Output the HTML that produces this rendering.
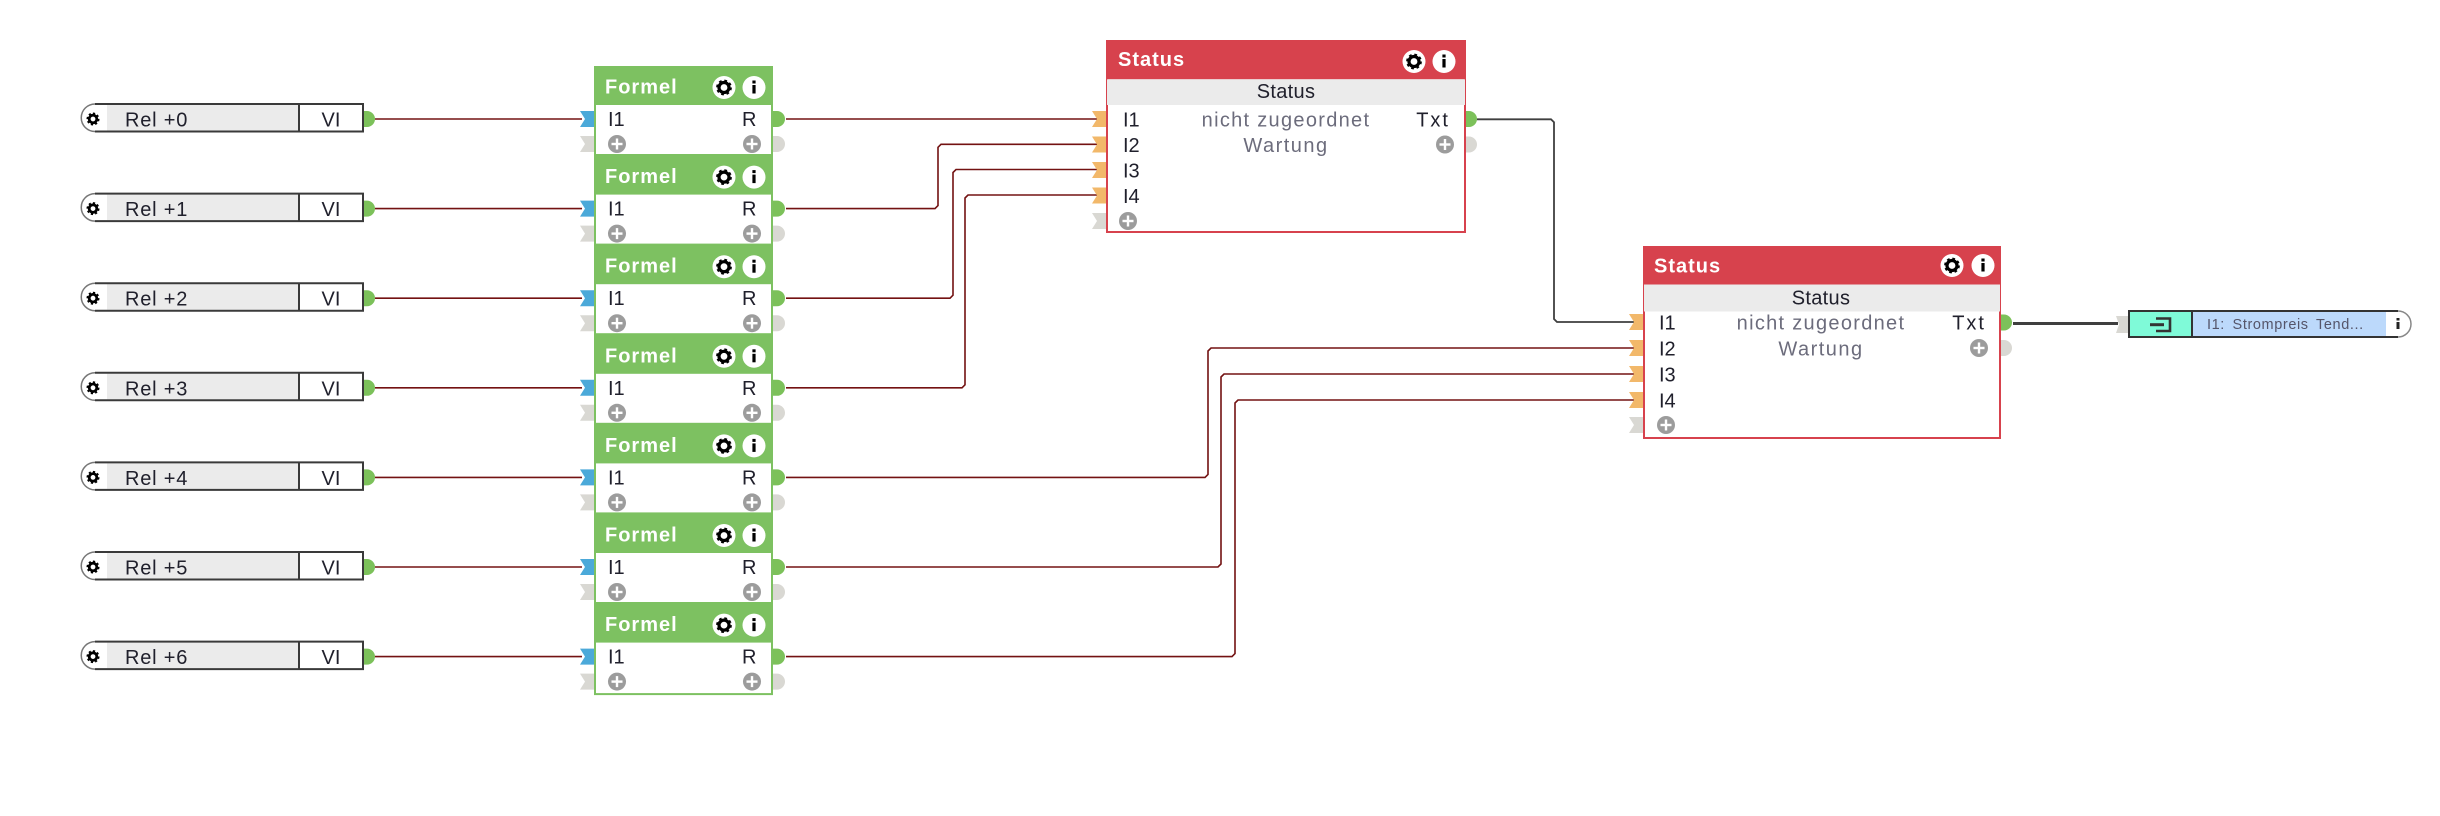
<!DOCTYPE html>
<html><head><meta charset="utf-8"><style>
html,body{margin:0;padding:0;background:#fff;width:2440px;height:816px;overflow:hidden}
svg{display:block}
text{font-family:"Liberation Sans",Arial,sans-serif}
.hd{font-weight:bold;font-size:20px;fill:#fff;letter-spacing:1px}
.t{font-size:20px;fill:#20202c}
.g{font-size:20px;fill:#6c6c7c}
.w{fill:none;stroke:#731212;stroke-width:1.6}
.d{fill:none;stroke:#3f3f3f}
</style></head><body>
<svg width="2440" height="816" viewBox="0 0 2440 816">
<defs>
<g id="gear"><circle r="11.5" fill="#fff"/><circle r="5" fill="none" stroke="#000" stroke-width="3.2"/><circle r="6.6" fill="none" stroke="#000" stroke-width="2.6" stroke-dasharray="2.6 2.6"/></g>
<g id="info"><circle r="11.5" fill="#fff"/><rect x="-1.6" y="-2.5" width="3.2" height="8.5" fill="#000"/><rect x="-1.6" y="-7" width="3.2" height="3" fill="#000"/></g>
<g id="plus"><circle r="9" fill="#9c9c9c"/><rect x="-5.5" y="-1.2" width="11" height="2.4" fill="#fff"/><rect x="-1.2" y="-5.5" width="2.4" height="11" fill="#fff"/></g>
<g id="sgear"><circle r="3.8" fill="none" stroke="#000" stroke-width="2.8"/><circle r="5.4" fill="none" stroke="#000" stroke-width="2.2" stroke-dasharray="2.1 2.1"/></g>
</defs>

<!-- wires Rel -> Formel -->
<path class="w" d="M375,119 H582"/>
<path class="w" d="M375,208.6 H582"/>
<path class="w" d="M375,298.2 H582"/>
<path class="w" d="M375,387.8 H582"/>
<path class="w" d="M375,477.4 H582"/>
<path class="w" d="M375,567 H582"/>
<path class="w" d="M375,656.6 H582"/>

<!-- wires Formel -> Status -->
<path class="w" d="M786,119 H1098"/>
<path class="w" d="M786,208.6 H935 L938,205.6 V147.3 L941,144.3 H1098"/>
<path class="w" d="M786,298.2 H950 L953,295.2 V172.5 L956,169.5 H1098"/>
<path class="w" d="M786,387.8 H962 L965,384.8 V198 L968,195 H1098"/>
<path class="w" d="M786,477.4 H1205 L1208,474.4 V351 L1211,348 H1636"/>
<path class="w" d="M786,567 H1218 L1221,564 V377 L1224,374 H1636"/>
<path class="w" d="M786,656.6 H1232 L1235,653.6 V403 L1238,400 H1636"/>

<!-- dark wires -->
<path class="d" stroke-width="1.8" d="M1477,119.3 H1551 L1554,122.3 V319 L1557,322 H1636"/>
<path class="d" stroke-width="3" d="M2013,323.5 H2118"/>

<!-- Rel boxes -->
<g transform="translate(0,119)">
<path d="M95,-15 A13.7,13.7 0 0 0 95,12.5" fill="#fff" stroke="#777" stroke-width="1.5"/>
<rect x="95" y="-15" width="268" height="27.5" fill="#fff"/><rect x="107" y="-14" width="192" height="25.5" fill="#ebebeb"/>
<path d="M95,-15 H363 V12.5 H95 M299,-15 V12.5" fill="none" stroke="#3a3a3a" stroke-width="2"/>
<use href="#sgear" x="93" y="0"/>
<text x="125" y="7.5" class="t" letter-spacing="0.8">Rel +0</text><text x="331" y="7.5" class="t" text-anchor="middle">VI</text>
<path d="M364,-8 h3 a8,8 0 0 1 0,16 h-3z" fill="#7cc15a"/></g>

<g transform="translate(0,208.6)">
<path d="M95,-15 A13.7,13.7 0 0 0 95,12.5" fill="#fff" stroke="#777" stroke-width="1.5"/>
<rect x="95" y="-15" width="268" height="27.5" fill="#fff"/><rect x="107" y="-14" width="192" height="25.5" fill="#ebebeb"/>
<path d="M95,-15 H363 V12.5 H95 M299,-15 V12.5" fill="none" stroke="#3a3a3a" stroke-width="2"/>
<use href="#sgear" x="93" y="0"/>
<text x="125" y="7.5" class="t" letter-spacing="0.8">Rel +1</text><text x="331" y="7.5" class="t" text-anchor="middle">VI</text>
<path d="M364,-8 h3 a8,8 0 0 1 0,16 h-3z" fill="#7cc15a"/></g>

<g transform="translate(0,298.2)">
<path d="M95,-15 A13.7,13.7 0 0 0 95,12.5" fill="#fff" stroke="#777" stroke-width="1.5"/>
<rect x="95" y="-15" width="268" height="27.5" fill="#fff"/><rect x="107" y="-14" width="192" height="25.5" fill="#ebebeb"/>
<path d="M95,-15 H363 V12.5 H95 M299,-15 V12.5" fill="none" stroke="#3a3a3a" stroke-width="2"/>
<use href="#sgear" x="93" y="0"/>
<text x="125" y="7.5" class="t" letter-spacing="0.8">Rel +2</text><text x="331" y="7.5" class="t" text-anchor="middle">VI</text>
<path d="M364,-8 h3 a8,8 0 0 1 0,16 h-3z" fill="#7cc15a"/></g>

<g transform="translate(0,387.8)">
<path d="M95,-15 A13.7,13.7 0 0 0 95,12.5" fill="#fff" stroke="#777" stroke-width="1.5"/>
<rect x="95" y="-15" width="268" height="27.5" fill="#fff"/><rect x="107" y="-14" width="192" height="25.5" fill="#ebebeb"/>
<path d="M95,-15 H363 V12.5 H95 M299,-15 V12.5" fill="none" stroke="#3a3a3a" stroke-width="2"/>
<use href="#sgear" x="93" y="0"/>
<text x="125" y="7.5" class="t" letter-spacing="0.8">Rel +3</text><text x="331" y="7.5" class="t" text-anchor="middle">VI</text>
<path d="M364,-8 h3 a8,8 0 0 1 0,16 h-3z" fill="#7cc15a"/></g>

<g transform="translate(0,477.4)">
<path d="M95,-15 A13.7,13.7 0 0 0 95,12.5" fill="#fff" stroke="#777" stroke-width="1.5"/>
<rect x="95" y="-15" width="268" height="27.5" fill="#fff"/><rect x="107" y="-14" width="192" height="25.5" fill="#ebebeb"/>
<path d="M95,-15 H363 V12.5 H95 M299,-15 V12.5" fill="none" stroke="#3a3a3a" stroke-width="2"/>
<use href="#sgear" x="93" y="0"/>
<text x="125" y="7.5" class="t" letter-spacing="0.8">Rel +4</text><text x="331" y="7.5" class="t" text-anchor="middle">VI</text>
<path d="M364,-8 h3 a8,8 0 0 1 0,16 h-3z" fill="#7cc15a"/></g>

<g transform="translate(0,567)">
<path d="M95,-15 A13.7,13.7 0 0 0 95,12.5" fill="#fff" stroke="#777" stroke-width="1.5"/>
<rect x="95" y="-15" width="268" height="27.5" fill="#fff"/><rect x="107" y="-14" width="192" height="25.5" fill="#ebebeb"/>
<path d="M95,-15 H363 V12.5 H95 M299,-15 V12.5" fill="none" stroke="#3a3a3a" stroke-width="2"/>
<use href="#sgear" x="93" y="0"/>
<text x="125" y="7.5" class="t" letter-spacing="0.8">Rel +5</text><text x="331" y="7.5" class="t" text-anchor="middle">VI</text>
<path d="M364,-8 h3 a8,8 0 0 1 0,16 h-3z" fill="#7cc15a"/></g>

<g transform="translate(0,656.6)">
<path d="M95,-15 A13.7,13.7 0 0 0 95,12.5" fill="#fff" stroke="#777" stroke-width="1.5"/>
<rect x="95" y="-15" width="268" height="27.5" fill="#fff"/><rect x="107" y="-14" width="192" height="25.5" fill="#ebebeb"/>
<path d="M95,-15 H363 V12.5 H95 M299,-15 V12.5" fill="none" stroke="#3a3a3a" stroke-width="2"/>
<use href="#sgear" x="93" y="0"/>
<text x="125" y="7.5" class="t" letter-spacing="0.8">Rel +6</text><text x="331" y="7.5" class="t" text-anchor="middle">VI</text>
<path d="M364,-8 h3 a8,8 0 0 1 0,16 h-3z" fill="#7cc15a"/></g>

<!-- Formel blocks -->
<g transform="translate(0,66)">
<rect x="594" y="0" width="179" height="90" fill="#7dc161"/><rect x="596" y="39" width="175" height="49" fill="#fff"/>
<text x="605" y="27.5" class="hd">Formel</text><use href="#gear" x="724" y="21.5"/><use href="#info" x="754" y="21.5"/>
<text x="608" y="60" class="t">I1</text><text x="742" y="60" class="t">R</text>
<use href="#plus" x="617" y="78"/><use href="#plus" x="752" y="78"/>
<polygon points="580,45 594,45 594,61 580,61 585,53" fill="#4ba9d9"/><polygon points="580,70 594,70 594,86 580,86 585,78" fill="#d9d8d3"/>
<path d="M773,45 h4 a8,8 0 0 1 0,16 h-4z" fill="#7cc15a"/><path d="M773,70 h4 a8,8 0 0 1 0,16 h-4z" fill="#d9d8d3"/></g>

<g transform="translate(0,155.6)">
<rect x="594" y="0" width="179" height="90" fill="#7dc161"/><rect x="596" y="39" width="175" height="49" fill="#fff"/>
<text x="605" y="27.5" class="hd">Formel</text><use href="#gear" x="724" y="21.5"/><use href="#info" x="754" y="21.5"/>
<text x="608" y="60" class="t">I1</text><text x="742" y="60" class="t">R</text>
<use href="#plus" x="617" y="78"/><use href="#plus" x="752" y="78"/>
<polygon points="580,45 594,45 594,61 580,61 585,53" fill="#4ba9d9"/><polygon points="580,70 594,70 594,86 580,86 585,78" fill="#d9d8d3"/>
<path d="M773,45 h4 a8,8 0 0 1 0,16 h-4z" fill="#7cc15a"/><path d="M773,70 h4 a8,8 0 0 1 0,16 h-4z" fill="#d9d8d3"/></g>

<g transform="translate(0,245.2)">
<rect x="594" y="0" width="179" height="90" fill="#7dc161"/><rect x="596" y="39" width="175" height="49" fill="#fff"/>
<text x="605" y="27.5" class="hd">Formel</text><use href="#gear" x="724" y="21.5"/><use href="#info" x="754" y="21.5"/>
<text x="608" y="60" class="t">I1</text><text x="742" y="60" class="t">R</text>
<use href="#plus" x="617" y="78"/><use href="#plus" x="752" y="78"/>
<polygon points="580,45 594,45 594,61 580,61 585,53" fill="#4ba9d9"/><polygon points="580,70 594,70 594,86 580,86 585,78" fill="#d9d8d3"/>
<path d="M773,45 h4 a8,8 0 0 1 0,16 h-4z" fill="#7cc15a"/><path d="M773,70 h4 a8,8 0 0 1 0,16 h-4z" fill="#d9d8d3"/></g>

<g transform="translate(0,334.8)">
<rect x="594" y="0" width="179" height="90" fill="#7dc161"/><rect x="596" y="39" width="175" height="49" fill="#fff"/>
<text x="605" y="27.5" class="hd">Formel</text><use href="#gear" x="724" y="21.5"/><use href="#info" x="754" y="21.5"/>
<text x="608" y="60" class="t">I1</text><text x="742" y="60" class="t">R</text>
<use href="#plus" x="617" y="78"/><use href="#plus" x="752" y="78"/>
<polygon points="580,45 594,45 594,61 580,61 585,53" fill="#4ba9d9"/><polygon points="580,70 594,70 594,86 580,86 585,78" fill="#d9d8d3"/>
<path d="M773,45 h4 a8,8 0 0 1 0,16 h-4z" fill="#7cc15a"/><path d="M773,70 h4 a8,8 0 0 1 0,16 h-4z" fill="#d9d8d3"/></g>

<g transform="translate(0,424.4)">
<rect x="594" y="0" width="179" height="90" fill="#7dc161"/><rect x="596" y="39" width="175" height="49" fill="#fff"/>
<text x="605" y="27.5" class="hd">Formel</text><use href="#gear" x="724" y="21.5"/><use href="#info" x="754" y="21.5"/>
<text x="608" y="60" class="t">I1</text><text x="742" y="60" class="t">R</text>
<use href="#plus" x="617" y="78"/><use href="#plus" x="752" y="78"/>
<polygon points="580,45 594,45 594,61 580,61 585,53" fill="#4ba9d9"/><polygon points="580,70 594,70 594,86 580,86 585,78" fill="#d9d8d3"/>
<path d="M773,45 h4 a8,8 0 0 1 0,16 h-4z" fill="#7cc15a"/><path d="M773,70 h4 a8,8 0 0 1 0,16 h-4z" fill="#d9d8d3"/></g>

<g transform="translate(0,514)">
<rect x="594" y="0" width="179" height="90" fill="#7dc161"/><rect x="596" y="39" width="175" height="49" fill="#fff"/>
<text x="605" y="27.5" class="hd">Formel</text><use href="#gear" x="724" y="21.5"/><use href="#info" x="754" y="21.5"/>
<text x="608" y="60" class="t">I1</text><text x="742" y="60" class="t">R</text>
<use href="#plus" x="617" y="78"/><use href="#plus" x="752" y="78"/>
<polygon points="580,45 594,45 594,61 580,61 585,53" fill="#4ba9d9"/><polygon points="580,70 594,70 594,86 580,86 585,78" fill="#d9d8d3"/>
<path d="M773,45 h4 a8,8 0 0 1 0,16 h-4z" fill="#7cc15a"/><path d="M773,70 h4 a8,8 0 0 1 0,16 h-4z" fill="#d9d8d3"/></g>

<g transform="translate(0,603.6)">
<rect x="594" y="0" width="179" height="91.5" fill="#7dc161"/><rect x="596" y="39" width="175" height="50.5" fill="#fff"/>
<text x="605" y="27.5" class="hd">Formel</text><use href="#gear" x="724" y="21.5"/><use href="#info" x="754" y="21.5"/>
<text x="608" y="60" class="t">I1</text><text x="742" y="60" class="t">R</text>
<use href="#plus" x="617" y="78"/><use href="#plus" x="752" y="78"/>
<polygon points="580,45 594,45 594,61 580,61 585,53" fill="#4ba9d9"/><polygon points="580,70 594,70 594,86 580,86 585,78" fill="#d9d8d3"/>
<path d="M773,45 h4 a8,8 0 0 1 0,16 h-4z" fill="#7cc15a"/><path d="M773,70 h4 a8,8 0 0 1 0,16 h-4z" fill="#d9d8d3"/></g>

<!-- Status 1 -->
<rect x="1107" y="41" width="358" height="191" fill="#fff" stroke="#d7424d" stroke-width="2"/>
<rect x="1106" y="40" width="360" height="39.3" fill="#d7424d"/>
<rect x="1107" y="79.3" width="358" height="25.7" fill="#ebebeb"/>
<text x="1118" y="66" class="hd">Status</text>
<use href="#gear" x="1414" y="61.5"/><use href="#info" x="1444" y="61.5"/>
<text x="1286" y="98" class="t" text-anchor="middle" fill="#333" letter-spacing="0.3">Status</text>
<text x="1123" y="126.5" class="t">I1</text>
<text x="1123" y="152" class="t">I2</text>
<text x="1123" y="177.5" class="t">I3</text>
<text x="1123" y="203" class="t">I4</text>
<text x="1286" y="126.5" class="g" text-anchor="middle" letter-spacing="1.3">nicht zugeordnet</text>
<text x="1286" y="152" class="g" text-anchor="middle" letter-spacing="1.5">Wartung</text>
<text x="1450" y="126.5" class="t" text-anchor="end" letter-spacing="2">Txt</text>
<use href="#plus" x="1445" y="144.5"/><use href="#plus" x="1128" y="221"/>
<polygon points="1092,111 1106,111 1106,127 1092,127 1097,119" fill="#f2b86a"/>
<polygon points="1092,136.5 1106,136.5 1106,152.5 1092,152.5 1097,144.5" fill="#f2b86a"/>
<polygon points="1092,162 1106,162 1106,178 1092,178 1097,170" fill="#f2b86a"/>
<polygon points="1092,187.5 1106,187.5 1106,203.5 1092,203.5 1097,195.5" fill="#f2b86a"/>
<polygon points="1092,213 1106,213 1106,229 1092,229 1097,221" fill="#d9d8d3"/>
<path d="M1466,111 h3 a8,8 0 0 1 0,16 h-3z" fill="#7cc15a"/>
<path d="M1466,136.5 h3 a8,8 0 0 1 0,16 h-3z" fill="#d9d8d3"/>

<!-- Status 2 -->
<rect x="1644" y="247" width="356" height="191" fill="#fff" stroke="#d7424d" stroke-width="2"/>
<rect x="1643" y="246" width="358" height="38.5" fill="#d7424d"/>
<rect x="1644" y="284.5" width="356" height="27" fill="#ebebeb"/>
<text x="1654" y="272.5" class="hd">Status</text>
<use href="#gear" x="1952" y="265.5"/><use href="#info" x="1983" y="265.5"/>
<text x="1821" y="304.5" class="t" text-anchor="middle" fill="#333" letter-spacing="0.3">Status</text>
<text x="1659" y="329.5" class="t">I1</text>
<text x="1659" y="355.5" class="t">I2</text>
<text x="1659" y="381.5" class="t">I3</text>
<text x="1659" y="407.5" class="t">I4</text>
<text x="1821" y="329.5" class="g" text-anchor="middle" letter-spacing="1.3">nicht zugeordnet</text>
<text x="1821" y="355.5" class="g" text-anchor="middle" letter-spacing="1.5">Wartung</text>
<text x="1986" y="329.5" class="t" text-anchor="end" letter-spacing="2">Txt</text>
<use href="#plus" x="1979" y="348"/><use href="#plus" x="1666" y="425"/>
<polygon points="1629,314 1643,314 1643,330 1629,330 1634,322" fill="#f2b86a"/>
<polygon points="1629,340 1643,340 1643,356 1629,356 1634,348" fill="#f2b86a"/>
<polygon points="1629,366 1643,366 1643,382 1629,382 1634,374" fill="#f2b86a"/>
<polygon points="1629,392 1643,392 1643,408 1629,408 1634,400" fill="#f2b86a"/>
<polygon points="1629,417 1643,417 1643,433 1629,433 1634,425" fill="#d9d8d3"/>
<path d="M2001,314.5 h3 a8,8 0 0 1 0,16 h-3z" fill="#7cc15a"/>
<path d="M2001,340 h3 a8,8 0 0 1 0,16 h-3z" fill="#d9d8d3"/>

<!-- Output block -->
<polygon points="2116,316 2129,316 2129,333 2116,333 2119,324.5" fill="#d9d8d3"/>
<path d="M2398,311 A13,13 0 0 1 2398,337" fill="#fff" stroke="#888" stroke-width="1.5"/>
<rect x="2129" y="311" width="269" height="26" fill="#fff"/>
<rect x="2130" y="312" width="62" height="24" fill="#7ffad8"/>
<rect x="2192" y="312" width="194" height="24" fill="#bcd9fb"/>
<path d="M2398,311 H2129 V337 H2398 M2192,311 V337" fill="none" stroke="#333" stroke-width="2"/>
<path d="M2156,318.5 H2170 V331 H2156" fill="none" stroke="#333" stroke-width="2.6"/>
<path d="M2150,324.7 H2164" fill="none" stroke="#333" stroke-width="3"/>
<text x="2207" y="329" font-size="14.5" fill="#55556a" letter-spacing="0.6" word-spacing="3">I1: Strompreis Tend...</text>
<rect x="2396.5" y="322" width="3" height="7" fill="#222"/><rect x="2396.5" y="318" width="3" height="2.5" fill="#222"/>
</svg>
</body></html>
